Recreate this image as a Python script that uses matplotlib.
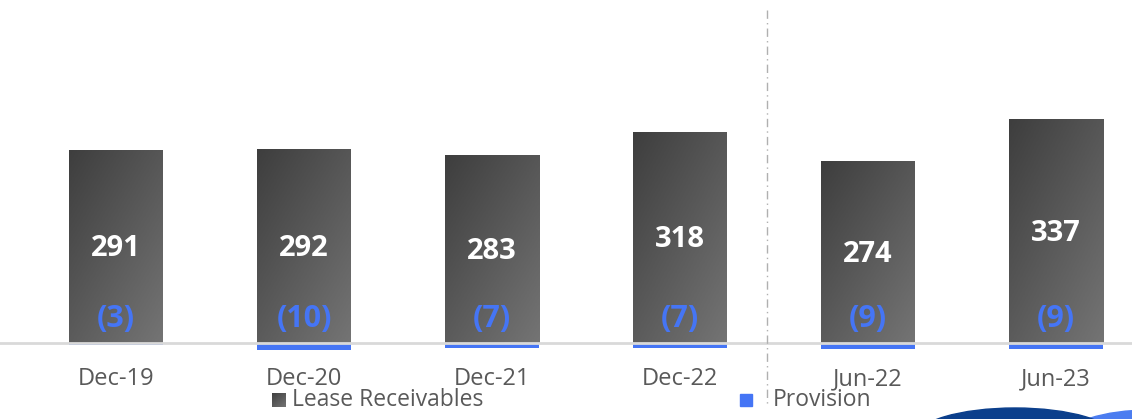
import numpy as np
import matplotlib.pyplot as plt
from matplotlib.patches import Rectangle, Ellipse
from matplotlib.colors import LinearSegmentedColormap

plt.rcParams['font.family'] = ['Open Sans', 'DejaVu Sans']

periods = ['Dec-19', 'Dec-20', 'Dec-21', 'Dec-22', 'Jun-22', 'Jun-23']
lease = [291, 292, 283, 318, 274, 337]
provision = [3, 10, 7, 7, 9, 9]

blue = '#4575F5'
grey_txt = '#595959'
bar_cmap = LinearSegmentedColormap.from_list('bar', ['#3E3E3E', '#747474'])

fig = plt.figure(figsize=(11.32, 4.19), dpi=100)
# axes: full width, baseline at pixel 343 from top, 0.664 px per unit
px = 0.664
ax = fig.add_axes([0, 64 / 419, 1, 355 / 419])
ax.axis('off')

x = np.arange(len(periods))
w = 0.5

# gradient for the lease bars (dark top-left -> lighter bottom-right)
gx, gy = np.meshgrid(np.linspace(0, 1, 60), np.linspace(0, 1, 200))
grad = gx * 0.45 + gy * 0.55

bars = ax.bar(x, lease, width=w, color='none', zorder=2)
for b in bars:
    x0, y0 = b.get_x(), b.get_y()
    im = ax.imshow(grad, cmap=bar_cmap, vmin=0, vmax=1,
                   extent=[x0, x0 + b.get_width(), y0, y0 + b.get_height()],
                   origin='upper', aspect='auto', zorder=2)
    im.set_clip_path(b)
ax.set_xlim(-116 / 188, (1132 - 116) / 188)
ax.set_ylim(-12 / px, 343 / px)

ax.bar(x, [-p for p in provision], width=w, color=blue, zorder=2)
ax.axhline(0, color='#D9D9D9', lw=2, zorder=3)

for xi, v, p in zip(x, lease, provision):
    ax.text(xi, v / 2 - 3, str(v), ha='center', va='center', color='white',
            fontsize=21, fontweight='bold', zorder=4)
    ax.text(xi, 36, '(%d)' % p, ha='center', va='center', color=blue,
            fontsize=22, fontweight='bold', zorder=4)

# category labels
for xi, lab in zip(x, periods):
    ax.text(xi, -36 / px, lab, ha='center', va='center', color=grey_txt,
            fontsize=17, clip_on=False)

# divider between annual and half-year figures
fig.add_artist(plt.Line2D([767 / 1132, 767 / 1132], [1 - 10 / 419, 1 - 405 / 419],
                          color='#B0B0B0', lw=1, ls=(0, (6, 3, 1, 3))))

# legend
sq = fig.add_axes([272 / 1132, 1 - 407 / 419, 14 / 1132, 14 / 419])
sq.imshow(grad, cmap=bar_cmap, vmin=0, vmax=1, aspect='auto')
sq.axis('off')
fig.add_artist(Rectangle((740 / 1132, 1 - 406 / 419), 12 / 1132, 12 / 419,
                         transform=fig.transFigure, color=blue))
fig.text(292 / 1132, 1 - 400 / 419, 'Lease Receivables', ha='left', va='center',
         color=grey_txt, fontsize=16.5)
fig.text(773 / 1132, 1 - 400 / 419, 'Provision', ha='left', va='center',
         color=grey_txt, fontsize=16.5)

# decorative shapes at bottom right
fig.add_artist(Ellipse((1150 / 1132, 1 - 438 / 419), 170 / 1132, 56 / 419,
                       transform=fig.transFigure, color='#4C7DF0', zorder=1))
fig.add_artist(Ellipse((1015 / 1132, 1 - 438 / 419), 200 / 1132, 60 / 419,
                       transform=fig.transFigure, color='#0B3F8C', zorder=2))

fig.savefig('out.png', dpi=100)
